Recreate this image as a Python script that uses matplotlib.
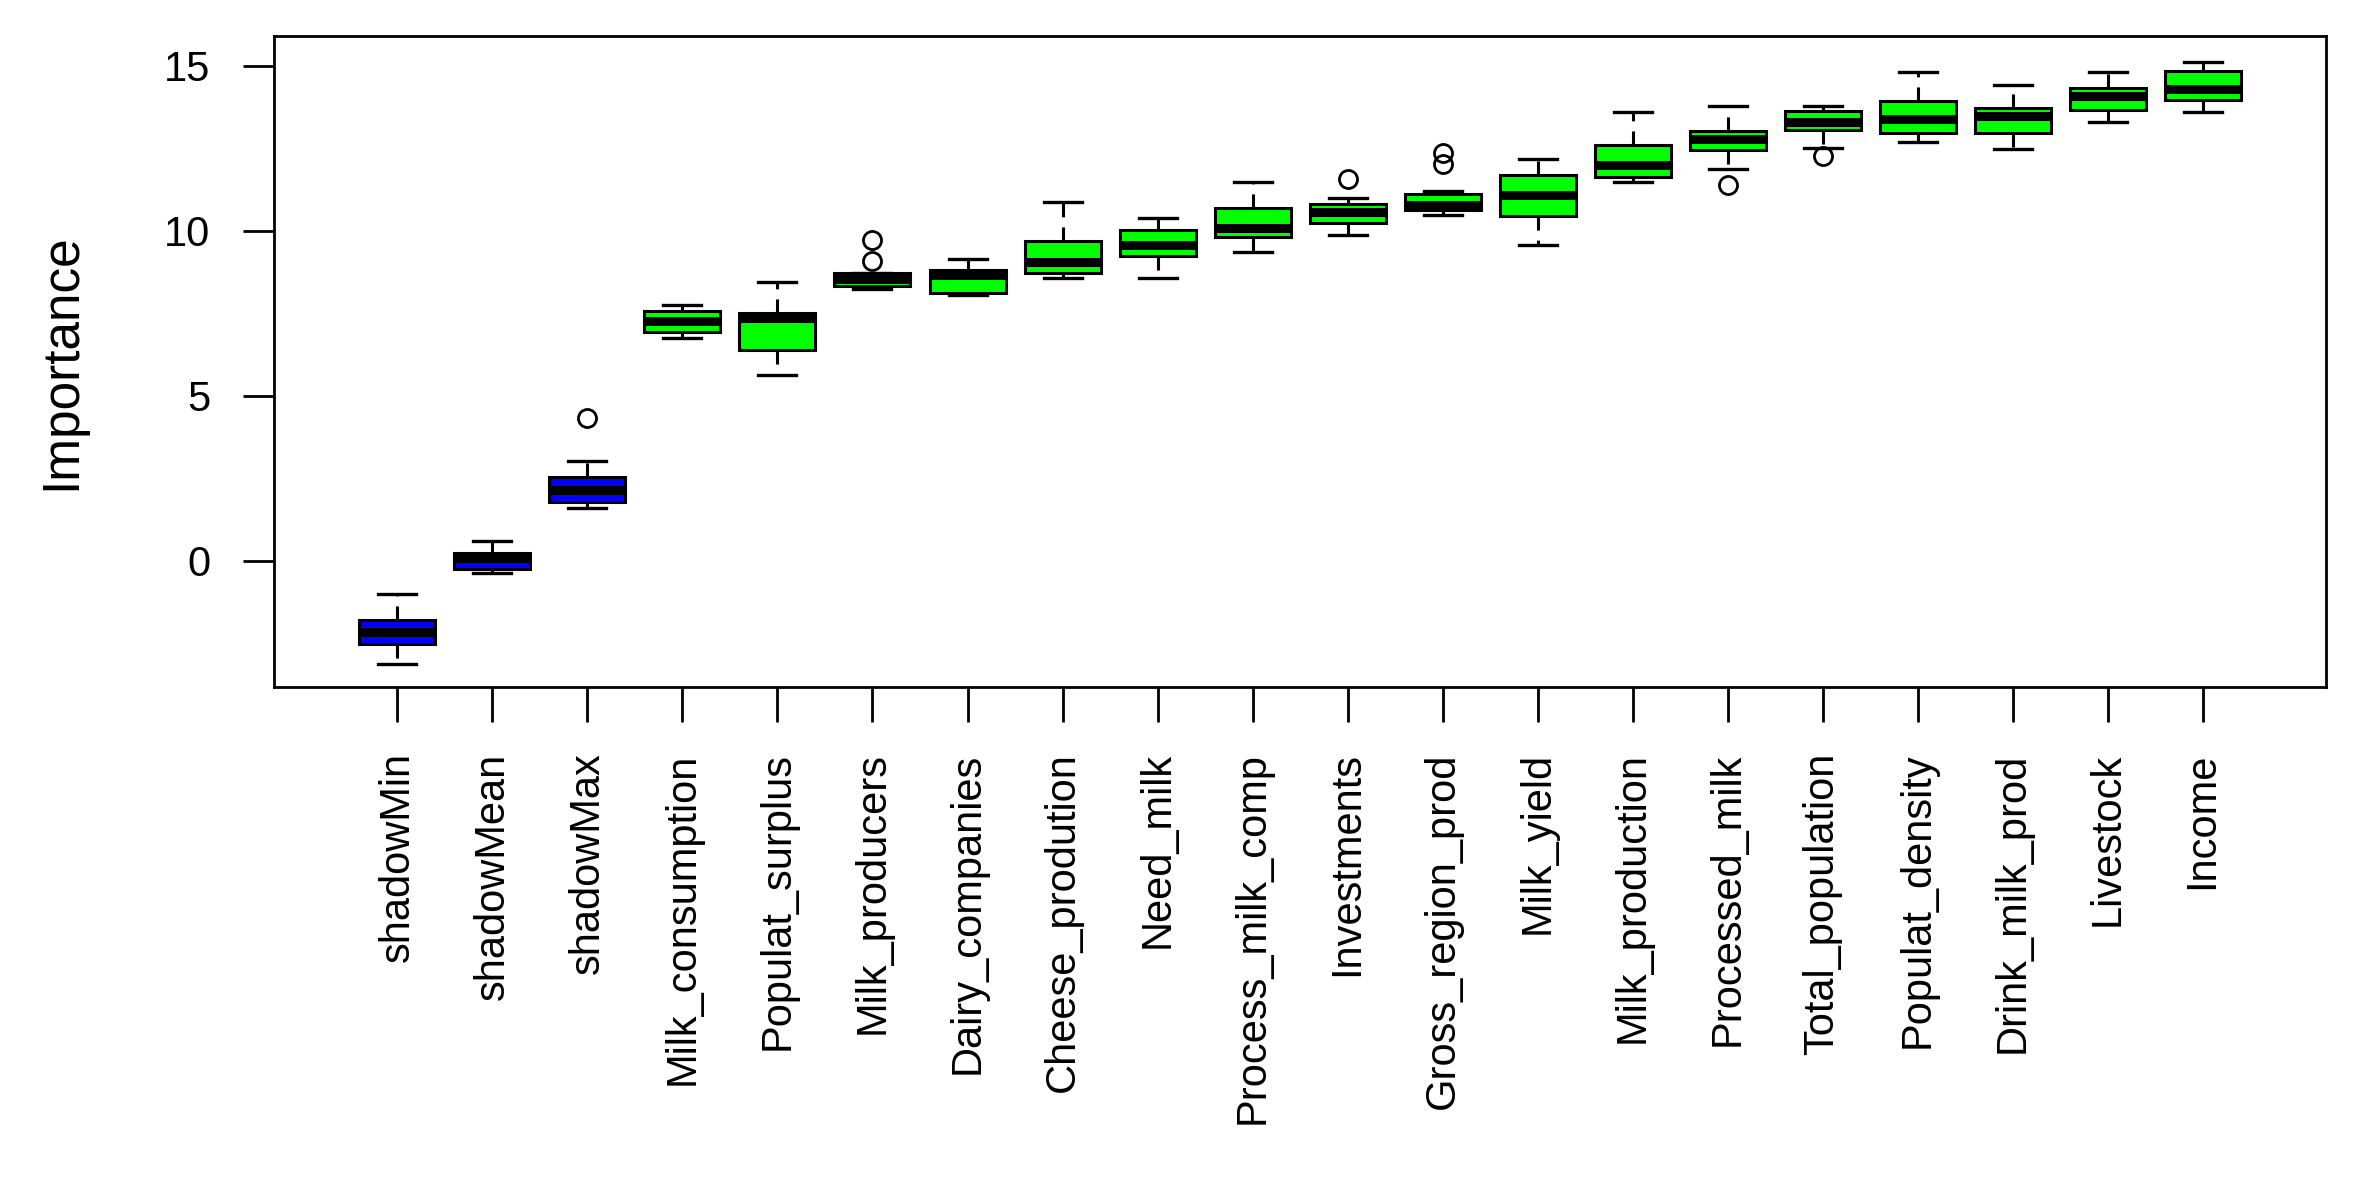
import matplotlib.pyplot as plt

plt.rcParams["font.family"] = ["Liberation Sans", "DejaVu Sans"]

# Boruta importance boxplot
features = [
    "shadowMin", "shadowMean", "shadowMax", "Milk_consumption", "Populat_surplus",
    "Milk_producers", "Dairy_companies", "Cheese_prodution", "Need_milk",
    "Process_milk_comp", "Investments", "Gross_region_prod", "Milk_yield",
    "Milk_production", "Processed_milk", "Total_population", "Populat_density",
    "Drink_milk_prod", "Livestock", "Income",
]
whislo = [-3.12, -0.39, 1.60, 6.74, 5.63, 8.24, 8.04, 8.56, 8.56, 9.36,
          9.86, 10.46, 9.55, 11.47, 11.87, 12.49, 12.68, 12.48, 13.29, 13.59]
q1 = [-2.53, -0.24, 1.78, 6.92, 6.39, 8.31, 8.11, 8.71, 9.22, 9.82,
      10.23, 10.63, 10.43, 11.64, 12.44, 13.06, 12.96, 12.96, 13.66, 13.97]
med = [-2.15, 0.07, 2.14, 7.26, 7.35, 8.52, 8.65, 9.06, 9.56, 10.07,
       10.57, 10.78, 11.09, 12.00, 12.79, 13.30, 13.39, 13.48, 14.09, 14.29]
q3 = [-1.80, 0.24, 2.54, 7.57, 7.49, 8.72, 8.80, 9.70, 10.01, 10.69,
      10.80, 11.12, 11.70, 12.61, 13.03, 13.63, 13.92, 13.72, 14.33, 14.83]
whishi = [-1.00, 0.60, 3.01, 7.74, 8.45, 8.72, 9.15, 10.87, 10.37, 11.48,
          10.98, 11.19, 12.18, 13.59, 13.79, 13.79, 14.80, 14.40, 14.80, 15.11]
outliers = [[], [], [4.32], [], [], [9.09, 9.73], [], [], [], [],
            [11.57], [12.03, 12.34], [], [], [11.39], [12.25], [], [], [], []]

stats = [
    dict(label=f, whislo=lo, q1=a, med=m, q3=b, whishi=hi, fliers=fl)
    for f, lo, a, m, b, hi, fl in zip(features, whislo, q1, med, q3, whishi, outliers)
]
positions = list(range(1, len(features) + 1))

fig = plt.figure(figsize=(23.76, 11.79), dpi=100)
ax = fig.add_axes([0.1153, 0.4173, 0.8637, 0.5522])

bp = ax.bxp(
    stats, positions=positions, widths=0.8, patch_artist=True,
    boxprops=dict(edgecolor="black", linewidth=2.2),
    medianprops=dict(color="black", linewidth=6.5, solid_capstyle="butt"),
    whiskerprops=dict(color="black", linewidth=2.2, linestyle=(0, (4.6, 3.3))),
    capprops=dict(color="black", linewidth=2.4),
    flierprops=dict(marker="o", markerfacecolor="none", markeredgecolor="black",
                    markersize=13, markeredgewidth=2.0, linestyle="none"),
)
for box, name in zip(bp["boxes"], features):
    box.set_facecolor("#0000FF" if name.startswith("shadow") else "#00FF00")

ax.set_xlim(-0.3, 21.3)
ax.set_ylim(-3.83, 15.9)
ax.set_yticks([0, 5, 10, 15])
ax.set_xticks(positions)
ax.set_xticklabels(features, rotation=90, fontsize=30)
ax.tick_params(axis="x", length=25, width=2.0, pad=22)
ax.tick_params(axis="y", length=22, width=2.0, pad=24, labelsize=30)
for sp in ax.spines.values():
    sp.set_linewidth(2.0)

ax.set_ylabel("Importance", fontsize=37)
ax.yaxis.set_label_coords(-0.0916, 0.5)

fig.savefig("out.png", dpi=100)
